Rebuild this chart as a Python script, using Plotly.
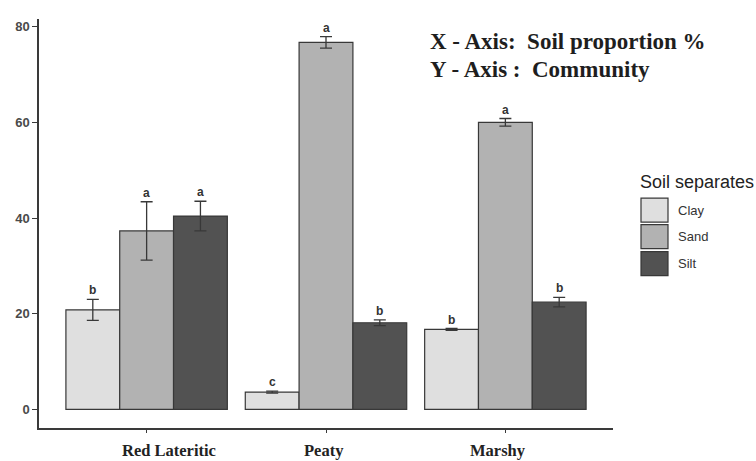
import plotly.graph_objects as go

# Soil community data: mean proportion (%) with error and significance letters
communities = ["Red Lateritic", "Peaty", "Marshy"]
separates = ["Clay", "Sand", "Silt"]

clay_mean = [20.8, 3.6, 16.7]
sand_mean = [37.3, 76.7, 60.0]
silt_mean = [40.4, 18.1, 22.4]

clay_err = [2.2, 0.2, 0.2]
sand_err = [6.1, 1.2, 0.8]
silt_err = [3.1, 0.6, 1.0]

clay_sig = ["b", "c", "b"]
sand_sig = ["a", "a", "a"]
silt_sig = ["a", "b", "b"]

y_ticks = [0, 20, 40, 60, 80]

means = [clay_mean, sand_mean, silt_mean]
errs = [clay_err, sand_err, silt_err]
sigs = [clay_sig, sand_sig, silt_sig]
fills = ["#dfdfdf", "#b2b2b2", "#525252"]

x_pos = [1, 2, 3]
bar_w = 0.3
offsets = [-bar_w, 0.0, bar_w]

fig = go.Figure()
for name, m, e, col, off in zip(separates, means, errs, fills, offsets):
    fig.add_trace(go.Bar(
        x=[p + off for p in x_pos], y=m, width=bar_w, name=name,
        marker=dict(color=col, line=dict(color="#383838", width=1.2)),
        error_y=dict(type="data", array=e, visible=True, color="#383838",
                     thickness=1.3, width=6),
        showlegend=False,
    ))

annotations = []
# significance letters above each error bar
for m, e, s, off in zip(means, errs, sigs, offsets):
    for p, mv, ev, lt in zip(x_pos, m, e, s):
        annotations.append(dict(
            x=p + off, y=mv + ev, xref="x", yref="y", text="<b>%s</b>" % lt,
            showarrow=False, yanchor="bottom", yshift=0,
            font=dict(family="Liberation Sans", size=12, color="#333333"),
        ))

# category labels under the axis
label_shift = [22, -2, -7]
for p, lab, sh in zip(x_pos, communities, label_shift):
    annotations.append(dict(
        x=p, y=0, xref="x", yref="paper", text="<b>%s</b>" % lab,
        showarrow=False, yanchor="middle", yshift=-22, xshift=sh,
        font=dict(family="Liberation Serif", size=16.5, color="#222222"),
    ))


def px_x(v):
    return (v - 39) / 574


def px_y(v):
    return (427.7 - v) / 408.7


# axis description text block
for txt, py in [("X - Axis:&nbsp; Soil proportion %", 41), ("Y - Axis :&nbsp; Community", 69.5)]:
    annotations.append(dict(
        x=px_x(428), y=px_y(py), xref="paper", yref="paper",
        text="<b>%s</b>" % txt, showarrow=False, xanchor="left", yanchor="middle",
        font=dict(family="Liberation Serif", size=23, color="#1e1e1e"),
    ))

# legend drawn as swatches with labels
shapes = []
annotations.append(dict(
    x=px_x(638), y=px_y(182), xref="paper", yref="paper", text="Soil separates",
    showarrow=False, xanchor="left", yanchor="middle",
    font=dict(family="Liberation Sans", size=18, color="#222222"),
))
box_tops = [198, 224.5, 251.5]
for name, col, top in zip(separates, fills, box_tops):
    shapes.append(dict(
        type="rect", xref="paper", yref="paper",
        x0=px_x(641), x1=px_x(668), y0=px_y(top + 24), y1=px_y(top),
        fillcolor=col, line=dict(color="#383838", width=1.2),
    ))
    annotations.append(dict(
        x=px_x(676), y=px_y(top + 12), xref="paper", yref="paper", text=name,
        showarrow=False, xanchor="left", yanchor="middle",
        font=dict(family="Liberation Sans", size=13, color="#333333"),
    ))

fig.update_layout(
    width=756, height=461,
    margin=dict(l=39, r=143, t=19, b=33),
    paper_bgcolor="white", plot_bgcolor="white",
    barmode="overlay",
    xaxis=dict(
        range=[0.4, 3.6], tickvals=x_pos, ticktext=["", "", ""],
        showgrid=False, zeroline=False, showline=True,
        linecolor="#3a3a3a", linewidth=1.5, ticks="outside", ticklen=3,
        tickcolor="#3a3a3a",
    ),
    yaxis=dict(
        range=[-3.9, 81.6], tickvals=y_ticks,
        ticktext=["<b>%d</b>" % v for v in y_ticks],
        showgrid=False, zeroline=False, showline=True,
        linecolor="#3a3a3a", linewidth=1.5, ticks="outside", ticklen=5,
        tickcolor="#3a3a3a",
        tickfont=dict(family="Liberation Sans", size=13, color="#4a4a4a"),
    ),
    annotations=annotations,
    shapes=shapes,
)

fig.write_html("out.html")
